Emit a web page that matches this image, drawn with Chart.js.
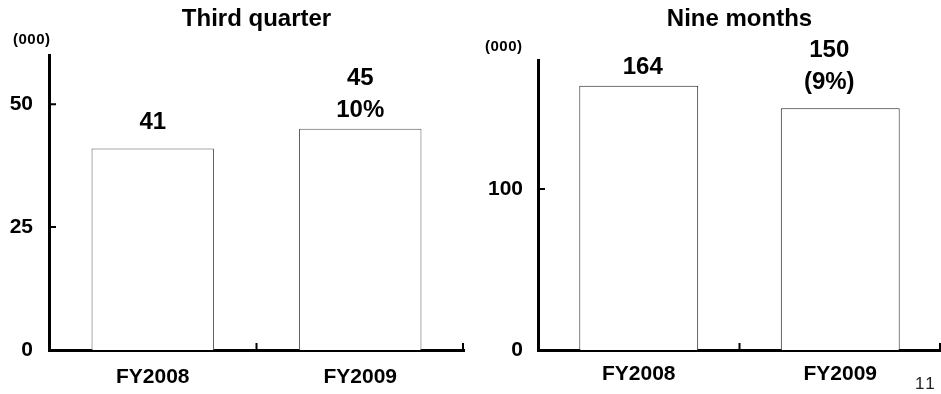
<!DOCTYPE html>
<html>
<head>
<meta charset="utf-8">
<script src="https://cdn.jsdelivr.net/npm/chart.js@4"></script>
<style>
  body { margin: 0; background: #fff; width: 941px; height: 394px; overflow: hidden; position: relative;
         font-family: "Liberation Sans", Arial, sans-serif; }
  canvas { position: absolute; top: 0; }
  #quarterChart { left: 0; }
  #nineChart { left: 470px; }
  .unit { position: absolute; font-weight: bold; font-size: 15px; letter-spacing: 0.5px; color: #000; }
  .page { position: absolute; left: 915px; top: 374px; font-size: 17px; letter-spacing: 2px; color: #222; }
</style>
</head>
<body>
<canvas id="quarterChart" width="470" height="394"></canvas>
<canvas id="nineChart" width="471" height="394"></canvas>
<div class="unit" style="left:13px;top:30px">(000)</div>
<div class="unit" style="left:485px;top:37px">(000)</div>
<div class="page">11</div>

<script>
const categories = ["FY2008", "FY2009"];

// Third quarter, thousands
const quarterValues = [41, 45];
const quarterLabels = [["41"], ["45", "10%"]];
const quarterMax = 60;
const quarterStep = 25;

// Nine months, thousands
const nineValues = [164, 150];
const nineLabels = [["164"], ["150", "(9%)"]];
const nineMax = 180;
const nineStep = 100;

Chart.defaults.font.family = '"Liberation Sans", Arial, sans-serif';
Chart.defaults.color = "#000";

// numbers written above the bars
function valueLabels(lines, gaps, dx) {
  return {
    id: "valueLabels",
    afterDatasetsDraw(chart) {
      const ctx = chart.ctx;
      const bars = chart.getDatasetMeta(0).data;
      ctx.save();
      ctx.font = 'bold 24px "Liberation Sans", Arial, sans-serif';
      ctx.fillStyle = "#000";
      ctx.textAlign = "center";
      ctx.textBaseline = "middle";
      bars.forEach((bar, i) => {
        const x = bar.x + dx[i];
        let y = bar.y - gaps[i];
        for (let k = lines[i].length - 1; k >= 0; k--) {
          ctx.fillText(lines[i][k], x, y);
          y -= 32;
        }
      });
      ctx.restore();
    }
  };
}

// short tick marks on the inside of both axes
const innerTicks = {
  id: "innerTicks",
  afterDraw(chart) {
    const { ctx, chartArea, scales } = chart;
    ctx.save();
    ctx.strokeStyle = "#000";
    ctx.lineWidth = 2;
    ctx.beginPath();
    scales.y.ticks.forEach(t => {
      if (t.value === 0) return;
      const py = scales.y.getPixelForValue(t.value);
      ctx.moveTo(chartArea.left, py);
      ctx.lineTo(chartArea.left + 7, py);
    });
    const n = chart.data.labels.length;
    for (let i = 0; i < n; i++) {
      const px = i < n - 1
        ? (scales.x.getPixelForValue(i) + scales.x.getPixelForValue(i + 1)) / 2
        : chartArea.right - 1;
      ctx.moveTo(px, chartArea.bottom);
      ctx.lineTo(px, chartArea.bottom - 7);
    }
    ctx.stroke();
    ctx.restore();
  }
};

function buildChart(id, values, cfg) {
  return new Chart(document.getElementById(id), {
    type: "bar",
    data: {
      labels: categories,
      datasets: [{
        data: values,
        backgroundColor: "#fff",
        borderColor: cfg.border,
        borderWidth: 1,
        barPercentage: 0.59,
        categoryPercentage: 1
      }]
    },
    options: {
      responsive: false,
      animation: false,
      devicePixelRatio: 1,
      layout: { padding: { left: 0, right: cfg.padRight, top: 0, bottom: 0 } },
      plugins: {
        legend: { display: false },
        tooltip: { enabled: false },
        title: {
          display: true,
          text: cfg.title,
          fullSize: false,
          color: "#000",
          font: { size: 24, weight: "bold" },
          padding: { top: 4.6, bottom: cfg.titleGap }
        }
      },
      scales: {
        x: {
          z: 1,
          grid: { display: false, drawTicks: false },
          border: { color: "#000", width: 3 },
          ticks: { color: "#000", font: { size: 21, weight: "bold" }, padding: cfg.xPad },
          afterFit: s => { s.height = 44; }
        },
        y: {
          z: 1,
          min: 0,
          max: cfg.max,
          grid: { display: false, drawTicks: false },
          border: { color: "#000", width: 3 },
          ticks: {
            stepSize: cfg.step,
            includeBounds: false,
            color: "#000",
            font: { size: 21, weight: "bold" },
            padding: cfg.yPad
          },
          afterFit: s => { s.width = cfg.axisLeft; }
        }
      }
    },
    plugins: [valueLabels(cfg.lines, cfg.gaps, cfg.dx), innerTicks]
  });
}

buildChart("quarterChart", quarterValues, {
  title: "Third quarter",
  max: quarterMax,
  step: quarterStep,
  lines: quarterLabels,
  gaps: [26, 18],
  dx: [0, 0],
  border: "#555",
  padRight: 6,
  axisLeft: 49,
  yPad: 16,
  xPad: 15,
  titleGap: 21.6
});

buildChart("nineChart", nineValues, {
  title: "Nine months",
  max: nineMax,
  step: nineStep,
  lines: nineLabels,
  gaps: [18, 26],
  dx: [4, -11],
  border: "#222",
  padRight: 0,
  axisLeft: 68,
  yPad: 15,
  xPad: 12,
  titleGap: 26.6
});
</script>
</body>
</html>
